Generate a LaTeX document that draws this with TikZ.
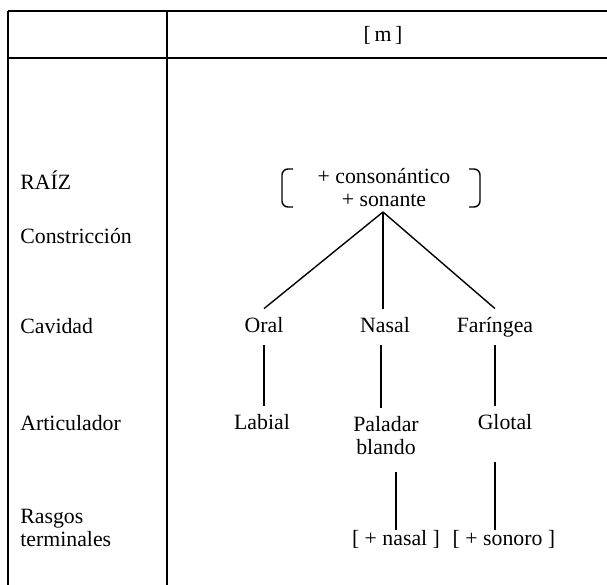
\documentclass[tikz,border=0pt]{standalone}
\usepackage{fontspec}
\setmainfont{Liberation Serif}
\begin{document}
\begin{tikzpicture}[x=0.5pt,y=-0.5pt,
  txt/.style={font=\fontsize{10.9}{11.5}\selectfont},
  lbl/.style={txt, anchor=base west, inner sep=0pt},
  tn/.style={txt, inner sep=4pt, text height=7.5pt, text depth=2.5pt},
  frame/.style={line width=0.6pt},
  br/.style={line width=0.7pt, rounded corners=3pt},
  ln/.style={line width=0.7pt}]
\useasboundingbox (0,0) rectangle (607,585);
% frame
\draw[frame] (8,11) -- (607,11);
\draw[frame] (8,58) -- (607,58);
\draw[frame] (8,11) -- (8,585);
\draw[frame] (167,11) -- (167,585);
% header
\node[txt, anchor=base] (m) at (383,41) {[\,m\,]};
% row labels
\node[lbl] (lraiz) at (20,189) {RAÍZ};
\node[lbl] (lcons) at (20,243) {Constricción};
\node[lbl] (lcav) at (20,333) {Cavidad};
\node[lbl] (lart) at (20,430) {Articulador};
\node[lbl, align=left, anchor=west] (lrasg) at (20,528) {Rasgos\\terminales};
% root matrix
\node[txt, align=center, inner sep=0pt] (raiz) at (384,188) {+ consonántico\\+ sonante};
\draw[br] (293,169) -- (282,169) -- (282,207) -- (293,207);
\draw[br] (469,169) -- (480,169) -- (480,207) -- (469,207);
\coordinate (apex) at (383,212);
% cavity level
\node[tn] (oral) at (264,327) {Oral};
\node[tn] (nasal) at (385,327) {Nasal};
\node[tn] (far) at (495,327) {Faríngea};
\draw[ln] (apex) -- (oral.north);
\draw[ln] (apex) -- (apex |- nasal.north);
\draw[ln] (apex) -- (far.north);
% articulator level
\node[tn] (labial) at (262,424) {Labial};
\node[txt, align=center, inner sep=4pt] (palad) at (386,436) {Paladar\\blando};
\node[tn] (glotal) at (505,424) {Glotal};
\draw[ln] (oral.south) -- (oral.south |- labial.north);
\draw[ln] ([xshift=-2pt]nasal.south) -- ([xshift=-2pt]nasal.south |- palad.north);
\draw[ln] (far.south) -- (far.south |- glotal.north);
% terminal features
\node[tn] (fnas) at (396,540) {[ + nasal ]};
\node[tn] (fson) at (504,540) {[ + sonoro ]};
\draw[ln, shorten <=4pt, shorten >=-4pt] ([xshift=5pt]palad.south) -- ([xshift=5pt]palad.south |- fnas.north);
\draw[ln, shorten <=10pt, shorten >=-4pt] (glotal.south -| far.south) -- (far.south |- fson.north);
\end{tikzpicture}
\end{document}
